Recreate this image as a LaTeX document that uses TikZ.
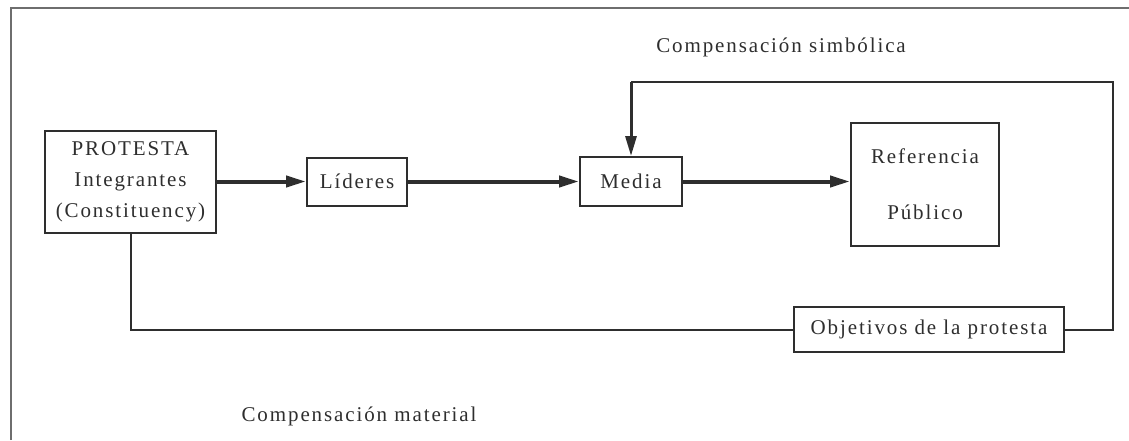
\documentclass[tikz,border=0pt]{standalone}
\usepackage{fontspec}
\setmainfont{Liberation Serif}[LetterSpace=9]
\usetikzlibrary{arrows.meta}
\definecolor{ink}{HTML}{2E2E2E}
\definecolor{framec}{HTML}{6E6E6E}
\tikzset{
  box/.style={draw=ink, line width=2pt, fill=white, inner sep=0pt, align=center, text=ink,
    font=\fontsize{21}{31}\selectfont},
  lbl/.style={text=ink, inner sep=0pt, font=\fontsize{21}{31}\selectfont},
  flow/.style={draw=ink, line width=4pt, -{Triangle[length=20pt,width=11pt]}},
  link/.style={draw=ink, line width=2pt},
}
\begin{document}
\begin{tikzpicture}[x=1pt,y=-1pt]
\useasboundingbox (0,0) rectangle (1129,440);
\draw[framec, line width=2.5pt] (11,440) -- (11,8) -- (1129,8);
\node[box, minimum width=171pt, minimum height=102pt] (prot) at (130.5,181.5) {PROTESTA\\Integrantes\\(Constituency)};
\node[box, minimum width=100pt, minimum height=48pt] (lid) at (357,181.5) {Líderes};
\node[box, minimum width=102pt, minimum height=49pt] (med) at (631,181.5) {Media};
\node[box, minimum width=148pt, minimum height=123pt, font=\fontsize{21}{56}\selectfont] (ref) at (925,184.5) {Referencia\\Público};
\node[box, minimum width=270pt, minimum height=45pt] (obj) at (929,329.5) {Objetivos de la protesta};
\node[lbl] (simb) at (781,47) {Compensación simbólica};
\node[lbl] (mat) at (359,416) {Compensación material};
\coordinate (tr) at (1113,82);
\draw[flow] (prot.east) -- (lid.west);
\draw[flow] (lid.east) -- (med.west);
\draw[flow] (med.east) -- (med.east -| ref.west);
\draw[link] (prot.south) |- (obj.west);
\draw[link] (obj.east) -| (tr) -- (med.north |- tr);
\draw[draw=ink, line width=3pt, -{Triangle[length=20pt,width=11pt]}] (med.north |- tr) -- (med.north);
\end{tikzpicture}
\end{document}
